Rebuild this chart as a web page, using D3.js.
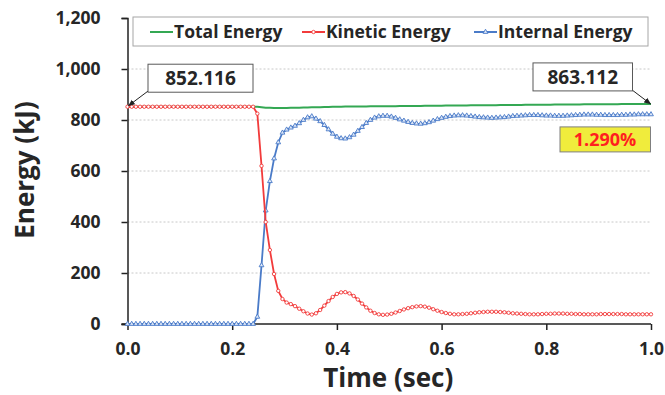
<!DOCTYPE html>
<html>
<head>
<meta charset="utf-8">
<script src="https://cdn.jsdelivr.net/npm/d3@7"></script>
<style>
  html, body { margin: 0; padding: 0; background: #fff; }
  svg text { font-family: "Open Sans", Lato, sans-serif; font-weight: bold; fill: #262626; }
</style>
</head>
<body>
<div id="chart"></div>
<script>
// sampled every 0.008 s, 0.0 .. 1.0
const timeStep = 0.008;

const totalEnergy = [
  852.116, 852, 852, 852, 852, 852, 852, 852, 852, 852,
  852, 852, 852, 852, 852, 852, 852, 852, 852, 852,
  852, 852, 852, 852, 852, 852, 852, 852, 852, 852,
  852, 852, 850, 848, 848, 847, 847, 847, 847, 848,
  848, 848, 849, 849, 850, 850, 850, 851, 851, 852,
  852, 852, 853, 853, 853, 853, 853, 853, 854, 854,
  854, 854, 854, 854, 854, 855, 855, 855, 855, 855,
  855, 856, 856, 856, 856, 856, 857, 857, 857, 857,
  857, 857, 858, 858, 858, 858, 858, 858, 858, 859,
  859, 859, 859, 859, 859, 860, 860, 860, 860, 860,
  860, 860, 861, 861, 861, 861, 861, 861, 861, 862,
  862, 862, 862, 862, 862, 862, 862, 862, 863, 863,
  863, 863, 863, 863, 863, 863.112
];

const kineticEnergy = [
  852, 852, 852, 852, 852, 852, 852, 852, 852, 852,
  852, 852, 852, 852, 852, 852, 852, 852, 852, 852,
  852, 852, 852, 852, 852, 852, 852, 852, 852, 852,
  852, 825, 620, 400, 290, 196, 130, 98, 84, 78,
  70, 60, 50, 41, 37, 42, 55, 72, 90, 106,
  118, 124, 125, 120, 110, 96, 80, 65, 52, 43,
  38, 36, 37, 40, 45, 51, 57, 62, 66, 69,
  70, 68, 64, 58, 52, 47, 43, 40, 38, 38,
  39, 40, 42, 44, 46, 47, 48, 48, 48, 47,
  46, 44, 42, 41, 40, 39, 38, 38, 38, 39,
  40, 40, 41, 41, 41, 40, 40, 39, 39, 38,
  38, 38, 38, 39, 39, 39, 39, 39, 39, 38,
  38, 38, 38, 38, 38, 38
];

const internalEnergy = [
  0, 0, 0, 0, 0, 0, 0, 0, 0, 0,
  0, 0, 0, 0, 0, 0, 0, 0, 0, 0,
  0, 0, 0, 0, 0, 0, 0, 0, 0, 0,
  0, 28, 230, 445, 560, 649, 712, 750, 762, 770,
  777, 787, 800, 810, 814, 805, 795, 780, 763, 746,
  734, 728, 727, 732, 742, 757, 772, 788, 800, 809,
  814, 816, 816, 813, 808, 802, 797, 792, 788, 786,
  785, 787, 791, 797, 803, 808, 812, 815, 817, 818,
  818, 817, 815, 813, 811, 810, 809, 808, 809, 810,
  811, 813, 815, 816, 817, 818, 819, 819, 819, 818,
  817, 817, 816, 816, 816, 817, 818, 819, 820, 821,
  821, 821, 820, 820, 819, 819, 819, 819, 820, 820,
  821, 821, 822, 822, 822, 822
];

const xTicks = [0, 0.2, 0.4, 0.6, 0.8, 1.0];
const yTicks = [0, 200, 400, 600, 800, 1000, 1200];

const seriesNames = ['Total Energy', 'Kinetic Energy', 'Internal Energy'];
const colors = { total: '#34a853', kinetic: '#f23b3b', internal: '#4a7bc8' };

const width = 665;
const height = 395;
const margin = { top: 18, right: 14, bottom: 71, left: 127.5 };
const innerW = width - margin.left - margin.right;
const innerH = height - margin.top - margin.bottom;

const times = totalEnergy.map((_, i) => i * timeStep);

const svg = d3.select('#chart')
  .append('svg')
    .attr('width', width)
    .attr('height', height);

const defs = svg.append('defs');
defs.append('marker')
    .attr('id', 'arrow')
    .attr('viewBox', '0 0 10 10')
    .attr('refX', 9)
    .attr('refY', 5)
    .attr('markerWidth', 7)
    .attr('markerHeight', 7)
    .attr('orient', 'auto')
  .append('path')
    .attr('d', 'M0,1 L10,5 L0,9 Z')
    .attr('fill', '#222');

const g = svg.append('g')
  .attr('transform', `translate(${margin.left}, ${margin.top})`);

const x = d3.scaleLinear().domain([0, 1]).range([0, innerW]);
const y = d3.scaleLinear().domain([0, 1200]).range([innerH, 0]);

// gridlines
g.append('g')
  .selectAll('line')
  .data(yTicks.filter(d => d > 0 && d < 1200))
  .enter()
  .append('line')
    .attr('x1', 0)
    .attr('x2', innerW)
    .attr('y1', d => y(d))
    .attr('y2', d => y(d))
    .attr('stroke', '#c8c8c8')
    .attr('stroke-width', 1)
    .attr('stroke-dasharray', '2,2');

// axes
const yAxis = g.append('g')
  .call(d3.axisLeft(y).tickValues(yTicks).tickFormat(d3.format(',')).tickSize(6).tickPadding(21));
const xAxis = g.append('g')
  .attr('transform', `translate(0, ${innerH})`)
  .call(d3.axisBottom(x).tickValues(xTicks).tickFormat(d3.format('.1f')).tickSize(6).tickPadding(13));

[xAxis, yAxis].forEach(a => {
  a.select('.domain').attr('stroke', '#222').attr('stroke-width', 1.5);
  a.selectAll('.tick line').attr('stroke', '#222').attr('stroke-width', 1.5);
  a.selectAll('.tick text').style('font-size', '17.5px').style('font-family', '"Open Sans", sans-serif')
    .style('font-weight', 'bold').attr('fill', '#262626');
});
// x axis extends a little to the left of the y axis
xAxis.select('.domain').attr('d', `M-6,0H${innerW}`);

// axis titles
svg.append('text')
  .attr('x', margin.left + innerW / 2 - 1)
  .attr('y', 387)
  .attr('text-anchor', 'middle')
  .style('font-size', '26px')
  .text('Time (sec)');

svg.append('text')
  .attr('transform', `translate(34, ${margin.top + innerH / 2 - 1}) rotate(-90)`)
  .attr('text-anchor', 'middle')
  .style('font-size', '26px')
  .text('Energy (kJ)');

// lines
const line = vals => d3.line()
  .x((d, i) => x(times[i]))
  .y(d => y(d))(vals);

g.append('path')
  .attr('d', line(totalEnergy))
  .attr('fill', 'none')
  .attr('stroke', colors.total)
  .attr('stroke-width', 2);

g.append('path')
  .attr('d', line(internalEnergy))
  .attr('fill', 'none')
  .attr('stroke', colors.internal)
  .attr('stroke-width', 1.8);

g.append('g')
  .selectAll('path')
  .data(internalEnergy)
  .enter()
  .append('path')
    .attr('transform', (d, i) => `translate(${x(times[i])}, ${y(d)})`)
    .attr('d', d3.symbol().type(d3.symbolTriangle).size(10))
    .attr('fill', '#dfe8f7')
    .attr('stroke', colors.internal)
    .attr('stroke-width', 0.9);

g.append('path')
  .attr('d', line(kineticEnergy))
  .attr('fill', 'none')
  .attr('stroke', colors.kinetic)
  .attr('stroke-width', 1.8);

g.append('g')
  .selectAll('circle')
  .data(kineticEnergy)
  .enter()
  .append('circle')
    .attr('cx', (d, i) => x(times[i]))
    .attr('cy', d => y(d))
    .attr('r', 1.7)
    .attr('fill', '#fff')
    .attr('stroke', colors.kinetic)
    .attr('stroke-width', 0.9);

// legend
const legend = g.append('g').attr('transform', 'translate(5.5, -1)');
legend.append('rect')
  .attr('width', 515)
  .attr('height', 29)
  .attr('fill', '#fff')
  .attr('stroke', '#a6a6a6')
  .attr('stroke-width', 1);

const legendX = [17, 169, 341];
const legendColors = [colors.total, colors.kinetic, colors.internal];
seriesNames.forEach((name, i) => {
  const item = legend.append('g').attr('transform', `translate(${legendX[i]}, 15)`);
  item.append('line')
    .attr('x1', 0).attr('x2', 23)
    .attr('stroke', legendColors[i])
    .attr('stroke-width', 2);
  if (i === 1) {
    item.append('circle').attr('cx', 11.5).attr('r', 1.7)
      .attr('fill', '#fff').attr('stroke', colors.kinetic).attr('stroke-width', 0.9);
  }
  if (i === 2) {
    item.append('path').attr('transform', 'translate(11.5, 0)')
      .attr('d', d3.symbol().type(d3.symbolTriangle).size(10))
      .attr('fill', '#dfe8f7').attr('stroke', colors.internal).attr('stroke-width', 0.9);
  }
  item.append('text')
    .attr('x', 24)
    .attr('y', 6)
    .style('font-size', '17.5px')
    .text(name);
});

// callouts
function callout(px, py, bx, by, bw, bh, ax, ay, label) {
  g.append('line')
    .attr('x1', ax).attr('y1', ay)
    .attr('x2', px).attr('y2', py)
    .attr('stroke', '#222')
    .attr('stroke-width', 1)
    .attr('marker-end', 'url(#arrow)');
  g.append('rect')
    .attr('x', bx).attr('y', by)
    .attr('width', bw).attr('height', bh)
    .attr('fill', '#fff')
    .attr('stroke', '#595959')
    .attr('stroke-width', 1);
  g.append('text')
    .attr('x', bx + bw / 2)
    .attr('y', by + bh / 2 + 7)
    .attr('text-anchor', 'middle')
    .style('font-size', '19px')
    .text(label);
}

const startVal = totalEnergy[0];
const endVal = totalEnergy[totalEnergy.length - 1];

const sx = x(0), sy = y(startVal);
callout(sx + 1, sy - 1, sx + 20.5, sy - 42.5, 105, 28, sx + 21, sy - 16, d3.format('.3f')(startVal));

const ex = x(1), ey = y(endVal);
callout(ex - 0.5, ey, ex - 118, ey - 41, 99.5, 28, ex - 19, ey - 14, d3.format('.3f')(endVal));

// percent change box
const pct = (endVal - startVal) / startVal * 100;
const pb = g.append('g').attr('transform', `translate(${ex - 91}, ${ey + 23})`);
pb.append('rect')
  .attr('width', 90.5)
  .attr('height', 25)
  .attr('fill', '#f0ec3c')
  .attr('stroke', '#7f7f7f')
  .attr('stroke-width', 1);
pb.append('text')
  .attr('x', 45)
  .attr('y', 19)
  .attr('text-anchor', 'middle')
  .style('font-size', '18px')
  .style('fill', '#ff1f1f')
  .text(d3.format('.3f')(pct) + '%');
</script>
</body>
</html>
